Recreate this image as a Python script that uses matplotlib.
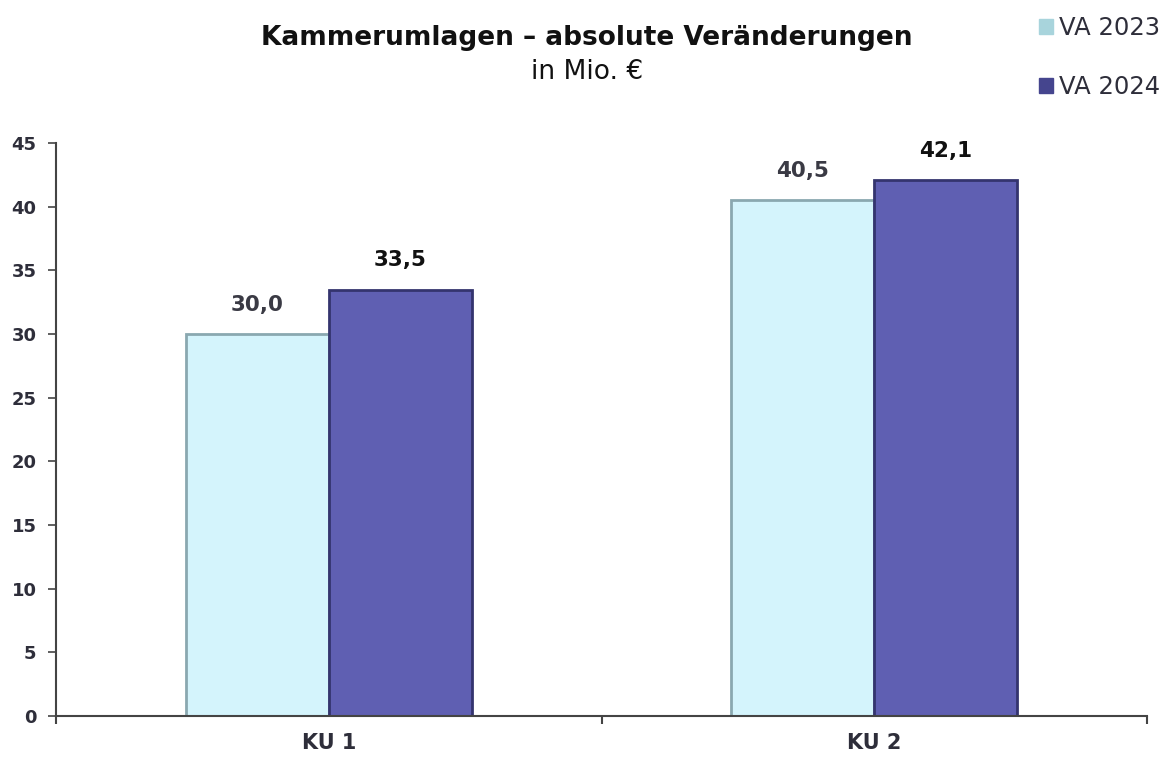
import matplotlib.pyplot as plt
from matplotlib.patches import Patch
import numpy as np

categories = ['KU 1', 'KU 2']
va2023 = [30.0, 40.5]
va2024 = [33.5, 42.1]
series_names = ['VA 2023', 'VA 2024']

light = '#d4f4fc'
dark = '#5f5fb2'
txt = '#2e2e3a'

fig = plt.figure(figsize=(11.67, 7.58), dpi=100)
ax = fig.add_axes([0.048, 0.0554, 0.935, 0.7558])

x = np.arange(len(categories))
w = 0.262

b1 = ax.bar(x - w / 2, va2023, w, color=light, edgecolor='#8aa8b0', linewidth=2, label=series_names[0])
b2 = ax.bar(x + w / 2, va2024, w, color=dark, edgecolor='#34346e', linewidth=2, label=series_names[1])

# value labels with comma decimals
for bars, vals, col in [(b1, va2023, '#3a3a44'), (b2, va2024, '#111111')]:
    for rect, v in zip(bars, vals):
        ax.annotate(f'{v:.1f}'.replace('.', ','),
                    (rect.get_x() + rect.get_width() / 2, rect.get_height()),
                    xytext=(0, 14), textcoords='offset points',
                    ha='center', va='bottom', fontsize=15.5, fontweight='bold', color=col)

ax.set_xlim(-0.5, 1.5)
ax.set_ylim(0, 45)
ax.set_yticks(range(0, 46, 5))
ax.set_xticks([-0.5, 0.5, 1.5])
ax.set_xticklabels([])
ax.set_xticks(x, minor=True)
ax.set_xticklabels(categories, minor=True, fontsize=15, fontweight='bold', color=txt)
ax.tick_params(axis='x', which='minor', length=0, pad=12)
ax.tick_params(axis='x', which='major', length=6, width=1.5, color='#444444')
ax.tick_params(axis='y', length=6, width=1.2, color='#444444', labelsize=13, labelcolor=txt, pad=8)
for lbl in ax.get_yticklabels():
    lbl.set_fontweight('bold')

for s in ['top', 'right']:
    ax.spines[s].set_visible(False)
ax.spines['left'].set_color('#444444')
ax.spines['bottom'].set_color('#444444')
ax.spines['left'].set_linewidth(1.5)
ax.spines['bottom'].set_linewidth(1.5)

fig.text(0.503, 0.95, 'Kammerumlagen \u2013 absolute Veränderungen', ha='center', va='center',
         fontsize=19, fontweight='bold', color='#111111')
fig.text(0.503, 0.905, 'in Mio. €', ha='center', va='center', fontsize=19, color='#111111')

handles = [Patch(facecolor='#a8d4dc', edgecolor='#a8d4dc'),
           Patch(facecolor='#45458e', edgecolor='#45458e')]
fig.legend(handles=handles, labels=series_names, loc='upper right',
           bbox_to_anchor=(1.013, 1.008), frameon=False, fontsize=17.5,
           labelspacing=1.45, handlelength=0.6, handleheight=0.6, handletextpad=0.25,
           labelcolor=txt)

fig.savefig('out.png', dpi=100)
